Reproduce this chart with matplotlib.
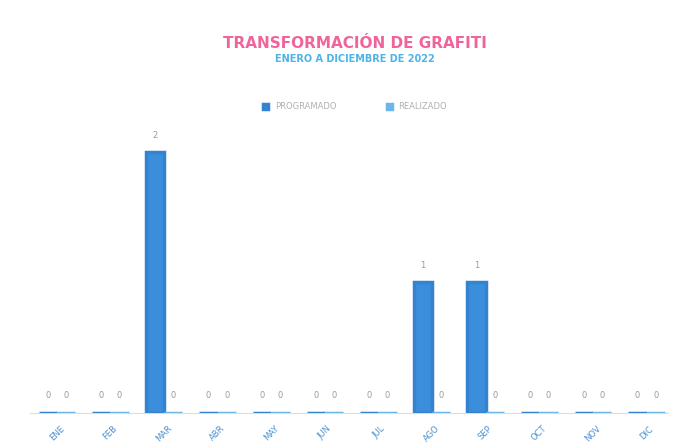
import numpy as np
import matplotlib.pyplot as plt

# datos del reporte
meses = ["ENE", "FEB", "MAR", "ABR", "MAY", "JUN", "JUL", "AGO", "SEP", "OCT", "NOV", "DIC"]
programado = [0, 0, 2, 0, 0, 0, 0, 1, 1, 0, 0, 0]
realizado = [0, 0, 0, 0, 0, 0, 0, 0, 0, 0, 0, 0]

fig = plt.figure(figsize=(6.83, 4.45), dpi=100)
ax = fig.add_axes([0.044, 0.072, 0.934, 0.645])

x = np.arange(len(meses))
w = 0.34
b1 = ax.bar(x - w / 2, programado, w, color="#3a8edb", edgecolor="#3383d0",
            linewidth=2.5, label="PROGRAMADO", zorder=3)
b2 = ax.bar(x + w / 2, realizado, w, color="#6cb6ea", edgecolor="#6cb6ea",
            linewidth=2.5, label="REALIZADO", zorder=3)
ax.bar_label(b1, padding=9, fontsize=6, color="#9a9a9a")
ax.bar_label(b2, padding=9, fontsize=6, color="#9a9a9a")

ax.set_xlim(-0.5, 11.4)
ax.set_ylim(0, 2.2)
ax.set_yticks([])
ax.set_xticks(x)
ax.set_xticklabels(meses, rotation=45, fontsize=6, color="#4a90d0")
ax.tick_params(axis="x", length=0, pad=8)
for s in ["top", "right", "left"]:
    ax.spines[s].set_visible(False)
ax.spines["bottom"].set_color("#dddddd")

fig.text(0.52, 0.893, "TRANSFORMACIÓN DE GRAFITI", ha="center", fontsize=11,
         fontweight="bold", color="#f0649c")
fig.text(0.52, 0.86, "ENERO A DICIEMBRE DE 2022", ha="center", fontsize=7,
         fontweight="bold", color="#4cb4ea")
fig.legend(loc="center", bbox_to_anchor=(0.52, 0.76), ncol=2, frameon=False,
           fontsize=6, labelcolor="#b0b0b0", handlelength=0.6, handleheight=0.6,
           columnspacing=6)

fig.savefig("out.png", dpi=100)
